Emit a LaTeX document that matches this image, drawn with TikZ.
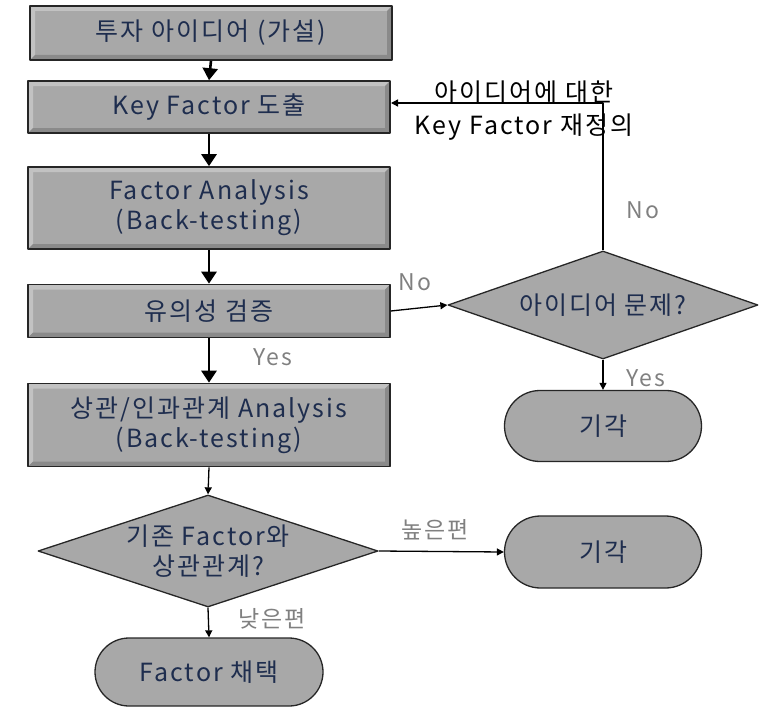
\documentclass[tikz,border=0pt]{standalone}
\usepackage{fontspec}
\setmainfont{Noto Sans CJK KR}
\newfontfamily\krfont[LetterSpace=8]{Noto Sans CJK KR}
\usetikzlibrary{arrows.meta,positioning,shapes.geometric,shapes.misc}
\definecolor{boxgray}{RGB}{168,168,168}
\definecolor{navy}{RGB}{30,45,78}
\definecolor{lblgray}{RGB}{128,128,128}

\begin{document}
\begin{tikzpicture}[x=1pt,y=-1pt, line join=round,
  bevel/.style={path picture={
    \fill[boxgray!70!white] (path picture bounding box.north west) -- (path picture bounding box.north east)
      -- ([xshift=-5pt,yshift=-5pt]path picture bounding box.north east) -- ([xshift=5pt,yshift=-5pt]path picture bounding box.north west)
      -- ([xshift=5pt,yshift=5pt]path picture bounding box.south west) -- (path picture bounding box.south west) -- cycle;
    \fill[boxgray!82!black] (path picture bounding box.south east) -- (path picture bounding box.north east)
      -- ([xshift=-5pt,yshift=-5pt]path picture bounding box.north east) -- ([xshift=-5pt,yshift=5pt]path picture bounding box.south east)
      -- ([xshift=5pt,yshift=5pt]path picture bounding box.south west) -- (path picture bounding box.south west) -- cycle;}},
  procbox/.style={draw=black!85,line width=1.6pt,fill=boxgray,bevel,minimum width=362pt,inner sep=0pt,align=center,text=navy,font=\krfont\fontsize{25}{30}\selectfont},
  decbox/.style={diamond,draw=black!85,line width=1.3pt,fill=boxgray,inner sep=0pt,align=center,text=navy,font=\krfont\fontsize{25}{30}\selectfont},
  termbox/.style={rounded rectangle,draw=black!85,line width=1.3pt,fill=boxgray,inner sep=0pt,text=navy,font=\krfont\fontsize{25}{30}\selectfont},
  lbl/.style={text=lblgray,font=\krfont\fontsize{23}{26}\selectfont},
  arr/.style={line width=2.6pt,-{Triangle[length=12pt,width=15pt]}},
  thinarr/.style={line width=1.3pt,-{Triangle[length=7pt,width=7pt]}}]
\useasboundingbox (0,0) rectangle (760,709);
% main column
\node[procbox,minimum height=54pt] (idea) at (211,33) {투자 아이디어 (가설)};
\node[procbox,minimum height=52pt] (key)  at (209,107) {Key Factor 도출};
\node[procbox,minimum height=82pt] (fa)   at (209,208) {Factor Analysis\\(Back-testing)};
\node[procbox,minimum height=53pt] (sig)  at (209,311) {유의성 검증};
\node[procbox,minimum height=83pt] (corr) at (209,425) {상관/인과관계 Analysis\\(Back-testing)};
\node[decbox,minimum width=340pt,minimum height=112pt,shape aspect=3] (old) at (208,551) {기존 Factor와\\상관관계?};
\node[termbox,minimum width=228pt,minimum height=68pt] (adopt) at (209,672) {Factor 채택};
% right column
\node[decbox,minimum width=310pt,minimum height=108pt,shape aspect=2.9] (prob) at (603,305) {아이디어 문제?};
\node[termbox,minimum width=197pt,minimum height=71pt] (rej1) at (603,426) {기각};
\node[termbox,minimum width=197pt,minimum height=72pt] (rej2) at (603,552) {기각};
\coordinate (turn) at (603,103);
\coordinate (back) at (391,103);

\draw[arr] (idea.south) -- (key.north);
\draw[arr] (key.south) -- (fa.north);
\draw[arr] (fa.south) -- (sig.north);
\draw[arr] (sig.south) -- node[lbl,right=40pt,yshift=3pt] {Yes} (corr.north);
\draw[thinarr] (corr.south) -- (old.north);
\draw[thinarr] (old.south) -- node[lbl,right=26pt,yshift=4pt] {낮은편} (adopt.north);
\draw[thinarr] (old.east) -- node[lbl,above=8pt,xshift=-6pt] {높은편} (rej2.west);
\draw[thinarr] (sig.east) -- node[lbl,above=13pt,xshift=-4pt] {No} (prob.west);
\draw[thinarr] (prob.south) -- node[lbl,right=20pt,yshift=-3pt] {Yes} (rej1.north);
\draw[thinarr] (prob.north) -- node[lbl,right=20pt,pos=0.27] {No} (turn) -- (back);
\node[font=\krfont\fontsize{25}{33}\selectfont,align=center] (redo) at (524,111) {아이디어에 대한\\Key Factor 재정의};
\end{tikzpicture}
\end{document}
